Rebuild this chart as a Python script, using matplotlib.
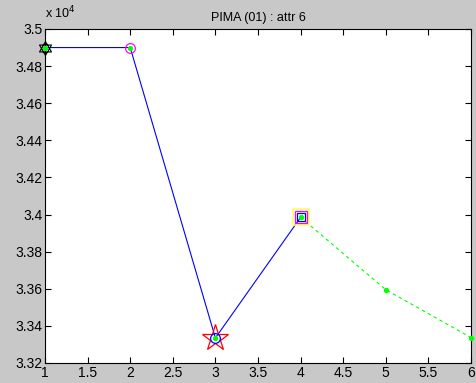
import numpy as np
import matplotlib
matplotlib.use('Agg')
import matplotlib.pyplot as plt
from matplotlib.path import Path
from matplotlib.ticker import FuncFormatter, MultipleLocator

# data
x_solid = [1, 2, 3, 4]
y_solid = [34900, 34900, 33335, 33985]
x_dash = [4, 5, 6]
y_dash = [33985, 33595, 33337]
title = 'PIMA (01) : attr 6'

plt.rcParams['font.family'] = ['Liberation Sans', 'DejaVu Sans']

# star of David marker: two triangles sharing a centroid
ang = np.deg2rad(np.array([90, 210, 330, 90]))
up = np.column_stack([np.cos(ang), np.sin(ang)])
down = -up
hexagram = Path(np.vstack([up, down]),
                [Path.MOVETO, Path.LINETO, Path.LINETO, Path.CLOSEPOLY] * 2)

fig = plt.figure(figsize=(4.77, 3.83), dpi=100, facecolor='#c8c8c8')
ax = fig.add_axes([45 / 477, 20 / 383, 426 / 477, 334 / 383])
ax.set_facecolor('white')

ax.plot(x_solid, y_solid, color='blue', lw=0.8, zorder=2)
ax.plot(x_dash, y_dash, color='#00ff00', lw=0.8, ls=(0, (3, 3)), zorder=2)

# markers on the special points
ax.plot(x_solid[0], y_solid[0], marker=hexagram, ms=10, mfc='none', mec='black', mew=0.8, ls='none', zorder=3, clip_on=False)
ax.plot(x_solid[1], y_solid[1], marker='o', ms=7, mfc='none', mec='magenta', mew=0.9, ls='none', zorder=3)
ax.plot(x_solid[2], y_solid[2], marker='*', ms=20, mfc='none', mec='red', mew=0.9, ls='none', zorder=3)
ax.plot(x_solid[2], y_solid[2], marker='o', ms=7, mfc='none', mec='blue', mew=0.9, ls='none', zorder=3)
ax.plot(x_solid[3], y_solid[3], marker='s', ms=11, mfc='none', mec='#ffff60', mew=1.2, ls='none', zorder=3)
ax.plot(x_solid[3], y_solid[3], marker='s', ms=8.5, mfc='none', mec='magenta', mew=0.9, ls='none', zorder=3)
ax.plot(x_solid[3], y_solid[3], marker='s', ms=6, mfc='none', mec='blue', mew=0.9, ls='none', zorder=3)
ax.plot(x_solid + x_dash[1:], y_solid + y_dash[1:], marker='o', ms=2.8, color='#00ff00', ls='none', zorder=4, clip_on=False)

ax.set_xlim(1, 6)
ax.set_ylim(33200, 35000)
ax.xaxis.set_major_locator(MultipleLocator(0.5))
ax.yaxis.set_major_locator(MultipleLocator(200))
ax.xaxis.set_major_formatter(FuncFormatter(lambda v, p: '%g' % v))
ax.yaxis.set_major_formatter(FuncFormatter(lambda v, p: '%g' % round(v / 1e4, 3)))
ax.tick_params(direction='in', top=True, right=True, length=4, width=0.8, labelsize=10, pad=2)
for s in ax.spines.values():
    s.set_linewidth(0.8)

ax.set_title(title, fontsize=9, pad=6)
fig.text(45 / 477, 1 - 18 / 383, r'x 10$^{4}$', fontsize=9, ha='left', va='baseline')

fig.savefig('out.png', dpi=100, facecolor=fig.get_facecolor())
